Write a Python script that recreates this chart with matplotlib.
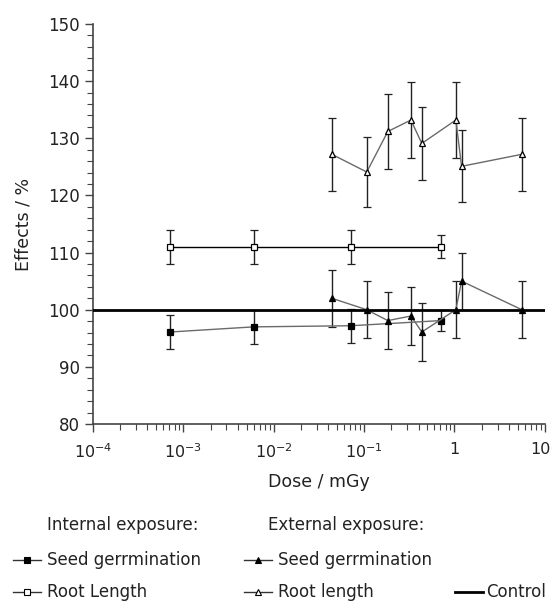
import matplotlib
matplotlib.use("Agg")
import matplotlib.pyplot as plt
from matplotlib.lines import Line2D
from matplotlib.transforms import ScaledTranslation
from matplotlib.ticker import LogLocator, MultipleLocator, FixedLocator, FixedFormatter

plt.rcParams["font.family"] = "DejaVu Sans"
plt.rcParams["mathtext.default"] = "regular"

# internal exposure
int_dose = [7.1e-4, 6.0e-3, 0.0714, 0.71]
int_seed = [96.1, 97.0, 97.2, 98.1]
int_seed_err = [3.0, 3.0, 3.0, 1.9]
int_root = [111, 111, 111, 111]
int_root_err = [3.0, 3.0, 3.0, 2.0]

# external exposure
ext_dose = [0.044, 0.107, 0.183, 0.33, 0.435, 1.035, 1.2, 5.57]
ext_seed = [102.0, 100.0, 98.1, 98.9, 96.1, 100.0, 105.0, 100.0]
ext_seed_err = [5, 5, 5, 5, 5, 5, 5, 5]
ext_root = [127.2, 124.1, 131.2, 133.2, 129.1, 133.2, 125.1, 127.2]
ext_root_err = [6.4, 6.2, 6.6, 6.7, 6.4, 6.7, 6.3, 6.4]

control = 100
xtick_vals = [1e-4, 1e-3, 1e-2, 1e-1, 1, 10]
xtick_labels = ["$10^{-4}$", "$10^{-3}$", "$10^{-2}$", "$10^{-1}$", "1", "10"]

GREY = "#6a6a6a"
DARK = "#222222"

fig = plt.figure(figsize=(5.52, 6.01), dpi=100)
ax = fig.add_axes([0.1685, 0.2945, 0.8185, 0.6655])

eb = dict(ecolor=DARK, elinewidth=1.0, capsize=2.8, capthick=1.0, markersize=4.5,
          markeredgewidth=0.9, markeredgecolor="black", lw=1.0)
ax.errorbar(int_dose, int_root, yerr=int_root_err, color="black", marker="s",
            markerfacecolor="white", zorder=3, **eb)
ax.errorbar(int_dose, int_seed, yerr=int_seed_err, color=GREY, marker="s",
            markerfacecolor="black", zorder=3, **eb)
ax.errorbar(ext_dose, ext_root, yerr=ext_root_err, color=GREY, marker="^",
            markerfacecolor="white", zorder=3, **eb)
ax.errorbar(ext_dose, ext_seed, yerr=ext_seed_err, color=GREY, marker="^",
            markerfacecolor="black", zorder=3, **eb)
ax.axhline(control, color="black", lw=2.0, zorder=4)

ax.set_xscale("log")
ax.set_xlim(1e-4, 10)
ax.set_ylim(80, 150)
ax.xaxis.set_major_locator(FixedLocator(xtick_vals))
ax.xaxis.set_major_formatter(FixedFormatter(xtick_labels))
ax.xaxis.set_minor_locator(LogLocator(base=10, subs=range(2, 10), numticks=20))
ax.yaxis.set_major_locator(MultipleLocator(10))
ax.yaxis.set_minor_locator(MultipleLocator(2))
ax.tick_params(which="major", direction="out", length=6, width=1, color="#444",
               labelsize=12, labelcolor="#222")
ax.tick_params(axis="x", which="major", labelsize=11.5, pad=7)
ax.tick_params(which="minor", direction="out", length=4, width=0.8, color="#444")
for sp in ["top", "right"]:
    ax.spines[sp].set_visible(False)
for sp in ["left", "bottom"]:
    ax.spines[sp].set_color("#444")
    ax.spines[sp].set_linewidth(1.2)

ax.set_xlabel("Dose / mGy", fontsize=12.5, color="#222", labelpad=9)
ax.set_ylabel("Effects / %", fontsize=12.5, color="#222", labelpad=11)

fig.canvas.draw()
last = ax.get_xticklabels()[-1]
last.set_transform(last.get_transform() + ScaledTranslation(-4 / 100, 0, fig.dpi_scale_trans))

# legend drawn in figure pixel coordinates
lg = fig.add_axes([0, 0, 1, 1], facecolor="none")
lg.set_xlim(0, 552); lg.set_ylim(601, 0); lg.axis("off")
fs = 12
lg.text(47, 525, "Internal exposure:", fontsize=fs, va="center", color="#222")
lg.text(268, 525, "External exposure:", fontsize=fs, va="center", color="#222")
items = [
    (13, 560, "s", "black", "Seed gerrmination"),
    (13, 592, "s", "white", "Root Length"),
    (244, 560, "^", "black", "Seed gerrmination"),
    (244, 592, "^", "white", "Root length"),
]
for x0, y0, mk, fc, lab in items:
    lg.add_line(Line2D([x0, x0 + 28], [y0, y0], color="#333", lw=1.0))
    lg.add_line(Line2D([x0 + 14], [y0], marker=mk, markersize=3.8, markerfacecolor=fc,
                       markeredgecolor="black", markeredgewidth=0.8, lw=0))
    lg.text(x0 + 34, y0, lab, fontsize=fs, va="center", color="#222")
lg.add_line(Line2D([455, 483], [592, 592], color="black", lw=2.0))
lg.text(486, 592, "Control", fontsize=fs, va="center", color="#222")

fig.savefig("out.png", dpi=100)
